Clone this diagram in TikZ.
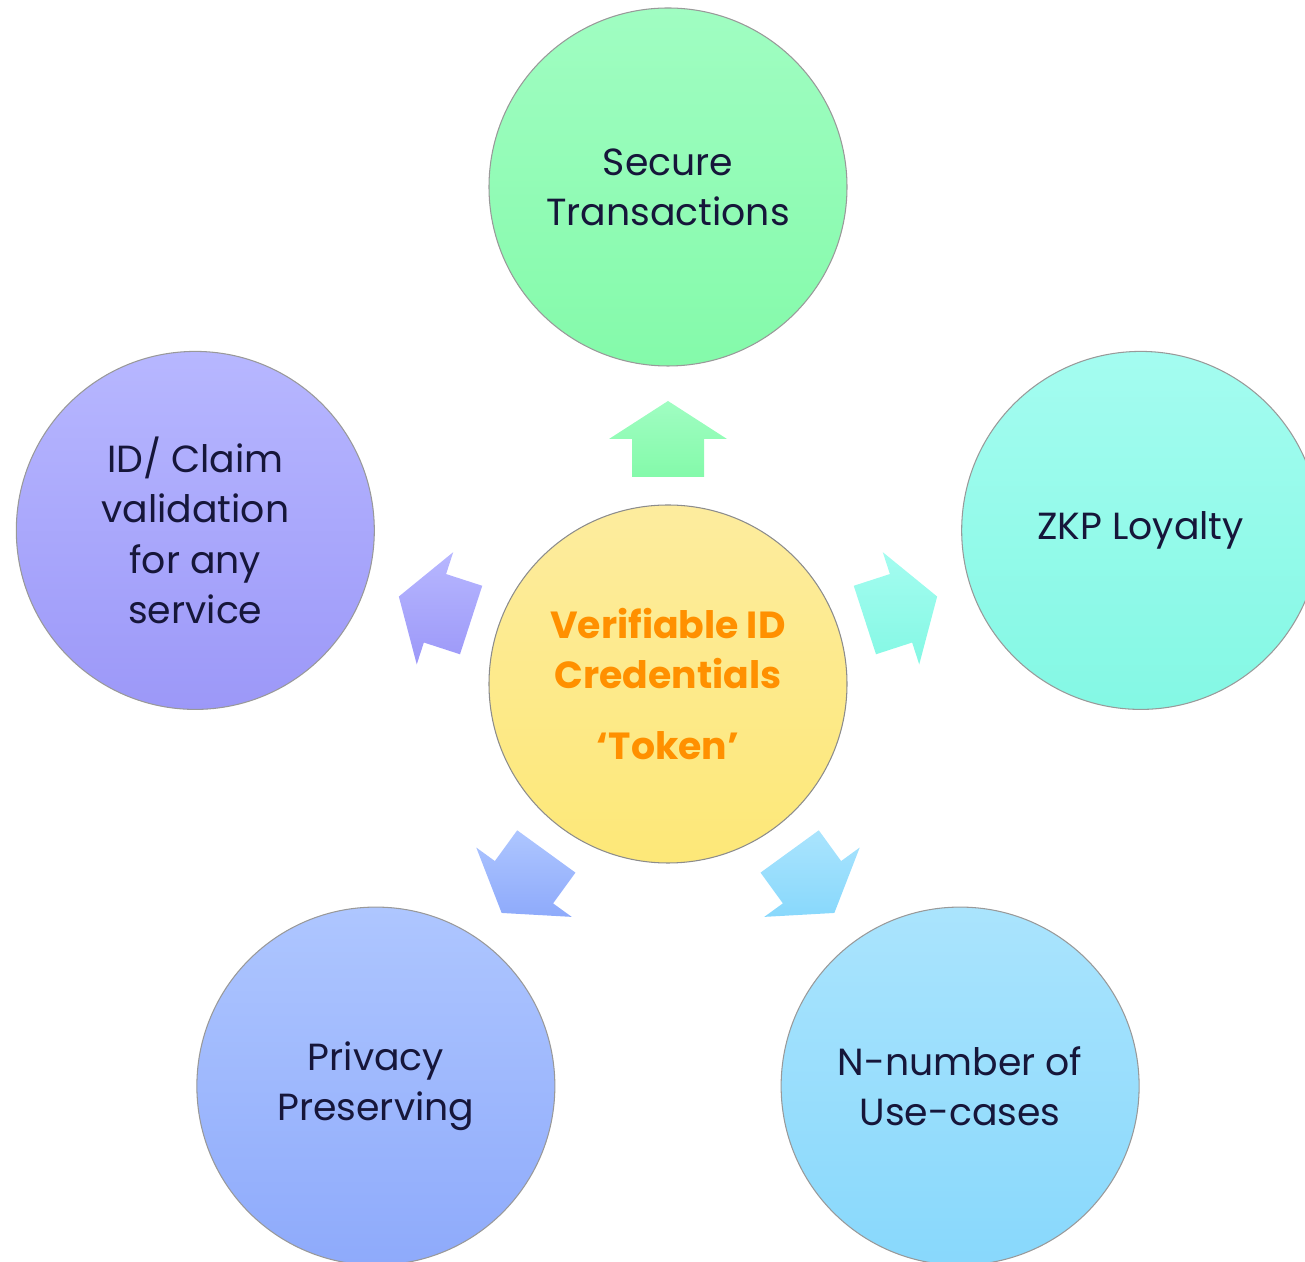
\documentclass[tikz,border=0pt]{standalone}
\usepackage{fontspec}
\setmainfont{Poppins}
\usepackage{tikz}
\usetikzlibrary{calc}
\definecolor{ink}{HTML}{16163A}
\definecolor{tokenorange}{HTML}{FF9000}
\definecolor{tokentop}{HTML}{FDEC9E}
\definecolor{tokenbot}{HTML}{FDE878}
\definecolor{securetop}{HTML}{A0FDC2}
\definecolor{securebot}{HTML}{84FAAA}
\definecolor{claimtop}{HTML}{B7B7FF}
\definecolor{claimbot}{HTML}{9C98F8}
\definecolor{loyaltytop}{HTML}{A4FCF0}
\definecolor{loyaltybot}{HTML}{84F8E4}
\definecolor{privacytop}{HTML}{AEC6FF}
\definecolor{privacybot}{HTML}{8EAAFB}
\definecolor{usecasetop}{HTML}{AAE4FD}
\definecolor{usecasebot}{HTML}{88D8FC}
\tikzset{
    bubble/.style={circle, draw=gray!80, line width=0.6pt, minimum size=7.16cm, inner sep=0pt,
        align=center, text=ink, font=\fontsize{21.5}{28.5}\selectfont},
}

\begin{document}
\begin{tikzpicture}
            \clip (-13.36, -11.56) rectangle (12.74, 13.68);
            \node[bubble, top color=tokentop, bottom color=tokenbot, draw=gray!90, text=tokenorange,
                font=\bfseries\fontsize{21.5}{28.5}\selectfont] (token) at (0, 0)
                {Verifiable ID\\Credentials\\[0.4cm]‘Token’};
            \foreach \name/\a/\txt in {secure/90/{Secure\\Transactions}, claim/162/{ID/ Claim\\validation\\for any\\service},
                    privacy/234/{Privacy\\Preserving}, usecase/306/{N-number of\\Use-cases}, loyalty/18/{ZKP Loyalty}} {
                \node[bubble, top color=\name top, bottom color=\name bot] (\name) at ($(token) + (\a:9.94)$) {\txt};
                % block arrow from the token towards each bubble
                \shade[top color=\name top, bottom color=\name bot]
                    ($(token) + (\a:4.14) + (\a+90:0.72)$) -- ($(token) + (\a:4.9) + (\a+90:0.72)$)
                    -- ($(token) + (\a:4.9) + (\a+90:1.18)$) -- ($(token) + (\a:5.66)$)
                    -- ($(token) + (\a:4.9) + (\a-90:1.18)$) -- ($(token) + (\a:4.9) + (\a-90:0.72)$)
                    -- ($(token) + (\a:4.14) + (\a-90:0.72)$) -- cycle;
            }
        \end{tikzpicture}
\end{document}
